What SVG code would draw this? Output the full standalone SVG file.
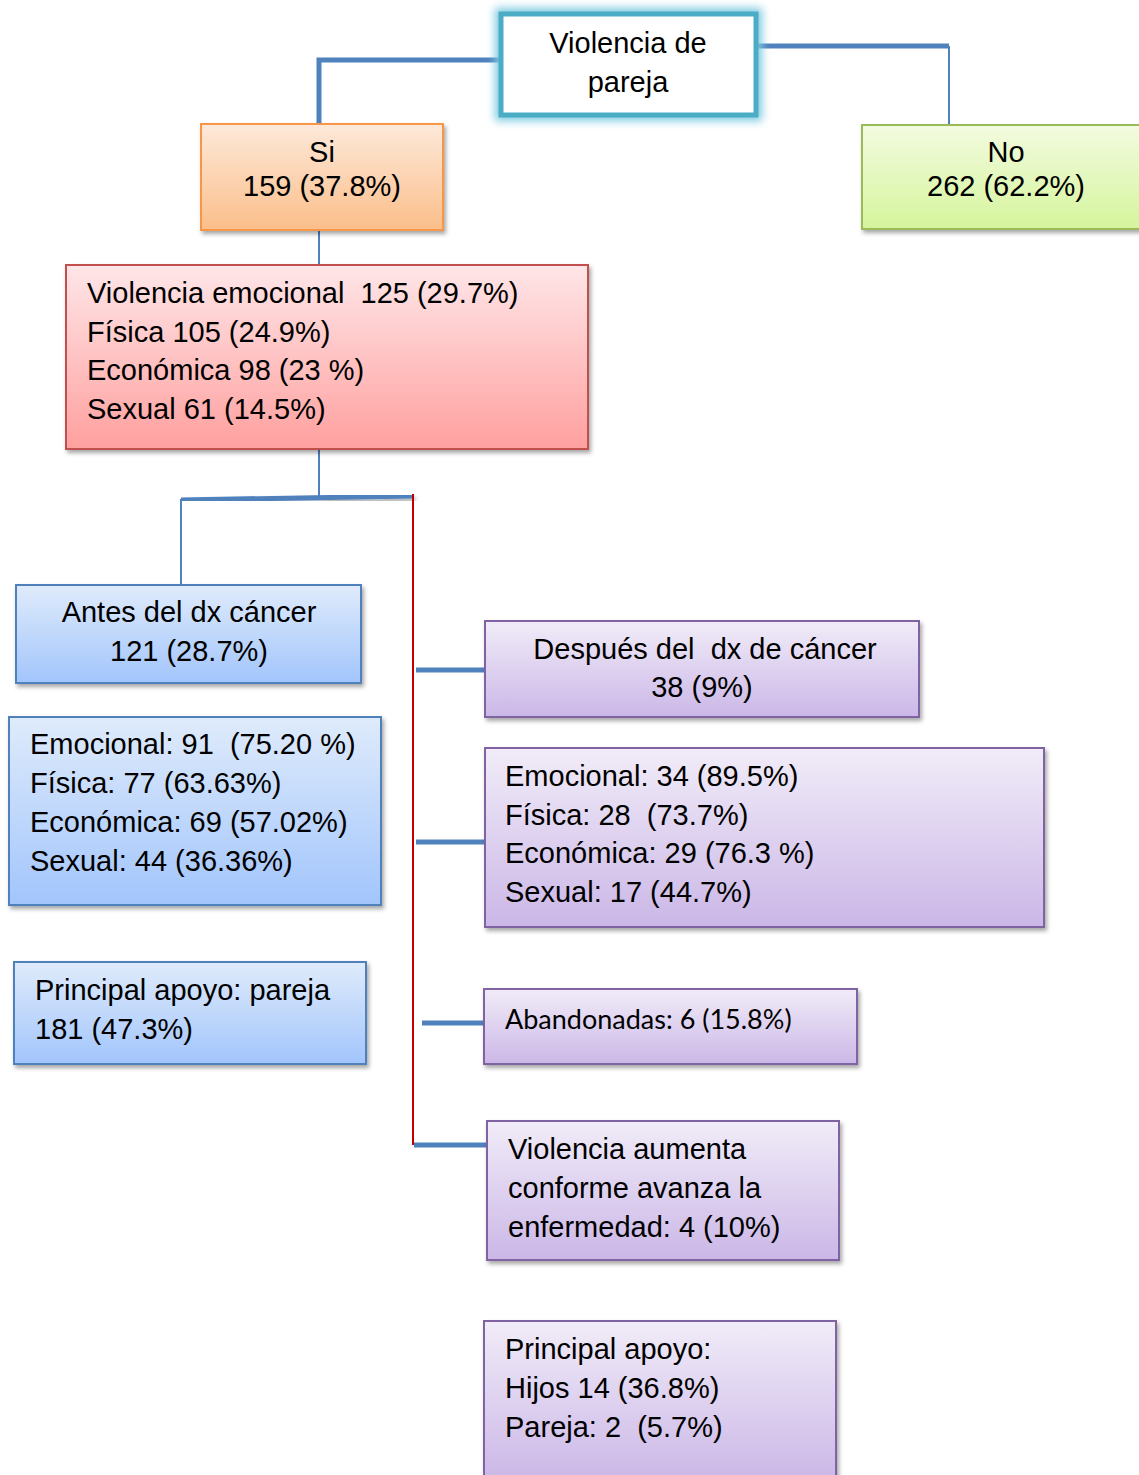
<svg xmlns="http://www.w3.org/2000/svg" width="1139" height="1475" viewBox="0 0 1139 1475">
<style>
text{font-family:"Liberation Sans",Arial,sans-serif;font-size:29px;fill:#000}
.c{text-anchor:middle}
.cal{font-family:Lato,"Open Sans",sans-serif;font-size:27px}
.thick{stroke:#4F81BD;stroke-width:5;fill:none}
.thin{stroke:#4F81BD;stroke-width:2;fill:none}
.red{stroke:#C00000;stroke-width:2;fill:none}
.or{fill:url(#gOr);stroke:#F79646;stroke-width:2}
.gr{fill:url(#gGr);stroke:#9BBB59;stroke-width:2}
.rd{fill:url(#gRd);stroke:#C0504D;stroke-width:2}
.bl{fill:url(#gBl);stroke:#4F81BD;stroke-width:2}
.pu{fill:url(#gPu);stroke:#8064A2;stroke-width:2}
</style>
<defs>
<linearGradient id="gOr" x1="0" y1="0" x2="0" y2="1"><stop offset="0" stop-color="#FDE9DA"/><stop offset="1" stop-color="#FBBE8A"/></linearGradient>
<linearGradient id="gGr" x1="0" y1="0" x2="0" y2="1"><stop offset="0" stop-color="#F3FBE0"/><stop offset="1" stop-color="#D5F59C"/></linearGradient>
<linearGradient id="gRd" x1="0" y1="0" x2="0" y2="1"><stop offset="0" stop-color="#FFE6E8"/><stop offset="1" stop-color="#FFA09F"/></linearGradient>
<linearGradient id="gBl" x1="0" y1="0" x2="0" y2="1"><stop offset="0" stop-color="#DFEBFB"/><stop offset="1" stop-color="#A2C5FC"/></linearGradient>
<linearGradient id="gPu" x1="0" y1="0" x2="0" y2="1"><stop offset="0" stop-color="#F1ECF8"/><stop offset="1" stop-color="#CBB7E7"/></linearGradient>
<filter id="sh" x="-10%" y="-10%" width="120%" height="130%"><feDropShadow dx="2" dy="3" stdDeviation="2" flood-color="#000" flood-opacity="0.35"/></filter>
<filter id="glow" x="-20%" y="-30%" width="140%" height="160%"><feGaussianBlur stdDeviation="4"/></filter>
</defs>
<g id="connectors">
<polyline class="thick" points="501,60 319,60 319,124"/>
<polyline class="thick" points="757,46 949,46"/>
<line class="thin" x1="949" y1="46" x2="949" y2="125"/>
<line class="thin" x1="319" y1="230" x2="319" y2="265"/>
<line class="thin" x1="319" y1="449" x2="319" y2="498"/>
<line class="thick" x1="181" y1="500" x2="413" y2="496" filter="url(#sh)"/>
<line class="thin" x1="181" y1="499" x2="181" y2="585"/>
<line class="red" x1="413" y1="494" x2="413" y2="1145"/>
<line class="thick" x1="416" y1="670" x2="485" y2="670"/>
<line class="thick" x1="416" y1="842" x2="485" y2="842"/>
<line class="thick" x1="422" y1="1023" x2="490" y2="1023"/>
<line class="thick" x1="414" y1="1145" x2="487" y2="1145"/>
</g>
<g id="root">
<rect x="501" y="14" width="255" height="101" fill="none" stroke="#7FCBE0" stroke-width="12" filter="url(#glow)"/>
<rect x="501" y="14" width="255" height="101" fill="#fff" stroke="#4BACC6" stroke-width="5"/>
<text class="c" x="628" y="53">Violencia de</text>
<text class="c" x="628" y="92">pareja</text>
</g>
<g id="si">
<rect class="or" x="201" y="124" width="242" height="106" filter="url(#sh)"/>
<text class="c" x="322" y="162">Si</text>
<text class="c" x="322" y="196">159 (37.8%)</text>
</g>
<g id="no">
<rect class="gr" x="862" y="125" width="285" height="104" filter="url(#sh)"/>
<text class="c" x="1006" y="162">No</text>
<text class="c" x="1006" y="196">262 (62.2%)</text>
</g>
<g id="tipos">
<rect class="rd" x="66" y="265" width="522" height="184" filter="url(#sh)"/>
<text x="87" y="303" xml:space="preserve">Violencia emocional  125 (29.7%)</text>
<text x="87" y="342">Física 105 (24.9%)</text>
<text x="87" y="380">Económica 98 (23 %)</text>
<text x="87" y="419">Sexual 61 (14.5%)</text>
</g>
<g id="antes">
<rect class="bl" x="16" y="585" width="345" height="98" filter="url(#sh)"/>
<text class="c" x="189" y="622">Antes del dx cáncer</text>
<text class="c" x="189" y="661">121 (28.7%)</text>
</g>
<g id="antes-tipos">
<rect class="bl" x="9" y="717" width="372" height="188" filter="url(#sh)"/>
<text x="30" y="754" xml:space="preserve">Emocional: 91  (75.20 %)</text>
<text x="30" y="793">Física: 77 (63.63%)</text>
<text x="30" y="832">Económica: 69 (57.02%)</text>
<text x="30" y="871">Sexual: 44 (36.36%)</text>
</g>
<g id="antes-apoyo">
<rect class="bl" x="14" y="962" width="352" height="102" filter="url(#sh)"/>
<text x="35" y="1000">Principal apoyo: pareja</text>
<text x="35" y="1039">181 (47.3%)</text>
</g>
<g id="despues">
<rect class="pu" x="485" y="621" width="434" height="96" filter="url(#sh)"/>
<text class="c" x="705" y="659" xml:space="preserve">Después del  dx de cáncer</text>
<text class="c" x="702" y="697">38 (9%)</text>
</g>
<g id="despues-tipos">
<rect class="pu" x="485" y="748" width="559" height="179" filter="url(#sh)"/>
<text x="505" y="786">Emocional: 34 (89.5%)</text>
<text x="505" y="825" xml:space="preserve">Física: 28  (73.7%)</text>
<text x="505" y="863">Económica: 29 (76.3 %)</text>
<text x="505" y="902">Sexual: 17 (44.7%)</text>
</g>
<g id="abandonadas">
<rect class="pu" x="484" y="989" width="373" height="75" filter="url(#sh)"/>
<text class="cal" x="505" y="1029">Abandonadas: 6 (15.8%)</text>
</g>
<g id="aumenta">
<rect class="pu" x="487" y="1121" width="352" height="139" filter="url(#sh)"/>
<text x="508" y="1159">Violencia aumenta</text>
<text x="508" y="1198">conforme avanza la</text>
<text x="508" y="1237">enfermedad: 4 (10%)</text>
</g>
<g id="despues-apoyo">
<rect class="pu" x="484" y="1321" width="352" height="160" filter="url(#sh)"/>
<text x="505" y="1359">Principal apoyo:</text>
<text x="505" y="1398">Hijos 14 (36.8%)</text>
<text x="505" y="1437" xml:space="preserve">Pareja: 2  (5.7%)</text>
</g>
</svg>
